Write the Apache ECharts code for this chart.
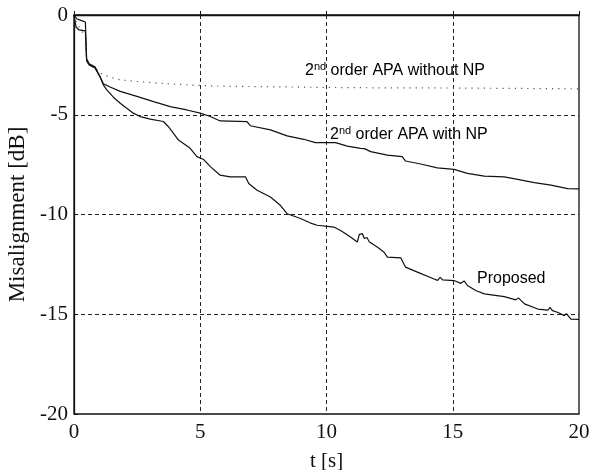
<!DOCTYPE html>
<html>
<head>
<meta charset="utf-8">
<script src="https://cdn.jsdelivr.net/npm/echarts@6/dist/echarts.min.js"></script>
<style>
  html, body { margin: 0; padding: 0; background: #fff; }
  #chart { width: 589px; height: 470px; }
</style>
</head>
<body>
<div id="chart"></div>
<script>
// x ticks / y ticks
const xTicks = [0, 5, 10, 15, 20]
const yTicks = [-20, -15, -10, -5, 0]

// 2nd order APA without NP (dotted)
const withoutNP = [
  [0, 0], [0.1, -0.4], [0.25, -0.7], [0.35, -0.9], [0.45, -1.0], [0.5, -2.2],
  [0.6, -2.45], [0.83, -2.6], [1.0, -2.85], [1.16, -3.0], [1.5, -3.15],
  [1.83, -3.25], [2.5, -3.33], [3.2, -3.4], [3.8, -3.45], [4.9, -3.53],
  [6, -3.57], [8, -3.6], [10, -3.63], [12, -3.65], [15, -3.66],
  [17.5, -3.68], [20, -3.7]
]

// 2nd order APA with NP
const withNP = [
  [0, 0], [0.12, -0.2], [0.3, -0.28], [0.45, -0.35], [0.5, -2.2], [0.6, -2.45],
  [0.83, -2.6], [1.03, -3.08], [1.16, -3.45], [1.43, -3.61], [1.83, -3.83],
  [2.49, -4.08], [3.15, -4.34], [3.81, -4.59], [4.47, -4.76], [5.0, -4.92],
  [5.4, -5.09], [5.79, -5.31], [6.85, -5.34], [6.98, -5.55], [7.78, -5.76],
  [8.44, -6.06], [9.1, -6.23], [9.56, -6.4], [10.36, -6.4], [10.82, -6.57],
  [11.35, -6.69], [11.42, -6.6], [11.5, -6.7], [11.75, -6.85], [12.41, -7.02],
  [13.0, -7.1], [13.13, -7.32], [13.73, -7.47], [14.39, -7.66], [15.05, -7.74],
  [15.58, -7.94], [16.25, -8.08], [17.04, -8.11], [17.57, -8.24], [18.23, -8.4],
  [18.89, -8.53], [19.55, -8.7], [20, -8.72]
]

// Proposed
const proposed = [
  [0, 0], [0.08, -0.6], [0.2, -0.75], [0.45, -0.8], [0.5, -2.3], [0.6, -2.5],
  [0.83, -2.65], [1.03, -3.1], [1.16, -3.5], [1.3, -3.75], [1.56, -4.12],
  [1.83, -4.42], [2.09, -4.67], [2.35, -4.92], [2.62, -5.09], [3.02, -5.22],
  [3.54, -5.34], [3.74, -5.6], [3.94, -5.93], [4.14, -6.27], [4.6, -6.68],
  [4.87, -7.1], [5.13, -7.24], [5.4, -7.6], [5.79, -8.03], [6.19, -8.11],
  [6.79, -8.11], [6.92, -8.45], [7.25, -8.78], [7.78, -9.12], [8.17, -9.54],
  [8.44, -9.96], [8.97, -10.2], [9.37, -10.43], [9.63, -10.54], [10.29, -10.63],
  [10.56, -10.8], [10.95, -11.13], [11.22, -11.38], [11.3, -11.0], [11.42, -10.96],
  [11.5, -11.2], [11.6, -11.15], [11.7, -11.38], [12.01, -11.63], [12.28, -11.89],
  [12.41, -12.14], [12.94, -12.17], [13.13, -12.64], [13.6, -12.89], [14.26, -13.23],
  [14.4, -13.3], [14.5, -13.15], [14.6, -13.28], [15.05, -13.31], [15.32, -13.45],
  [15.45, -13.33], [15.58, -13.56], [15.91, -13.81], [16.25, -13.98], [17.04, -14.12],
  [17.5, -14.28], [17.6, -14.18], [17.84, -14.48], [18.37, -14.74], [18.77, -14.79],
  [18.85, -14.65], [18.95, -14.82], [19.17, -14.91], [19.42, -15.07], [19.5, -14.97],
  [19.68, -15.24], [20, -15.26]
]

const serif = 'Liberation Serif'
const sans = 'Liberation Sans'

const chart = echarts.init(document.getElementById('chart'))

const gridLine = {
  show: true,
  showMinLine: false,
  showMaxLine: false,
  lineStyle: { color: '#222', type: [4, 3], width: 1 }
}

// superscript "nd": small line box pinned to the top of the line
const richText = {
  a: { fontFamily: sans, fontSize: 16, color: '#111', lineHeight: 20 },
  s: { fontFamily: sans, fontSize: 11, color: '#111', lineHeight: 10, verticalAlign: 'top' }
}

chart.setOption({
  animation: false,
  backgroundColor: '#fff',
  grid: {
    left: 74, right: 10, top: 15, bottom: 56,
    outerBoundsMode: 'none',
    containLabel: false,
    show: true,
    borderColor: '#111',
    borderWidth: 1.3
  },
  xAxis: {
    type: 'value',
    min: xTicks[0],
    max: xTicks[xTicks.length - 1],
    interval: 5,
    name: 't [s]',
    nameLocation: 'middle',
    nameGap: 37,
    nameTextStyle: { fontFamily: serif, fontSize: 21, color: '#111' },
    axisLine: { show: true, lineStyle: { color: '#111', width: 1.3 } },
    axisTick: { show: true, inside: true, length: 4, lineStyle: { color: '#111' } },
    axisLabel: { fontFamily: serif, fontSize: 21, color: '#111', margin: 8 },
    splitLine: gridLine
  },
  yAxis: {
    type: 'value',
    min: yTicks[0],
    max: yTicks[yTicks.length - 1],
    interval: 5,
    name: 'Misalignment [dB]',
    nameLocation: 'middle',
    nameGap: 42,
    nameTextStyle: { fontFamily: serif, fontSize: 23, color: '#111' },
    axisLine: { show: true, lineStyle: { color: '#111', width: 1.3 } },
    axisTick: { show: true, inside: true, length: 4, lineStyle: { color: '#111' } },
    axisLabel: { fontFamily: serif, fontSize: 21, color: '#111', margin: 6 },
    splitLine: gridLine
  },
  series: [
    {
      name: '2nd order APA without NP',
      type: 'line',
      data: withoutNP,
      showSymbol: false,
      lineStyle: { color: '#555', width: 1.2, type: [1.2, 5] }
    },
    {
      name: '2nd order APA with NP',
      type: 'line',
      data: withNP,
      showSymbol: false,
      lineStyle: { color: '#111', width: 1.2 }
    },
    {
      name: 'Proposed',
      type: 'line',
      data: proposed,
      showSymbol: false,
      lineStyle: { color: '#111', width: 1.2 }
    }
  ],
  graphic: [
    {
      type: 'text', x: 305, y: 61,
      style: { text: '{a|2}{s|nd}{a| order APA without NP}', rich: richText }
    },
    {
      type: 'text', x: 330, y: 125,
      style: { text: '{a|2}{s|nd}{a| order APA with NP}', rich: richText }
    },
    {
      type: 'text', x: 477, y: 269,
      style: { text: '{a|Proposed}', rich: richText }
    }
  ]
})
</script>
</body>
</html>
